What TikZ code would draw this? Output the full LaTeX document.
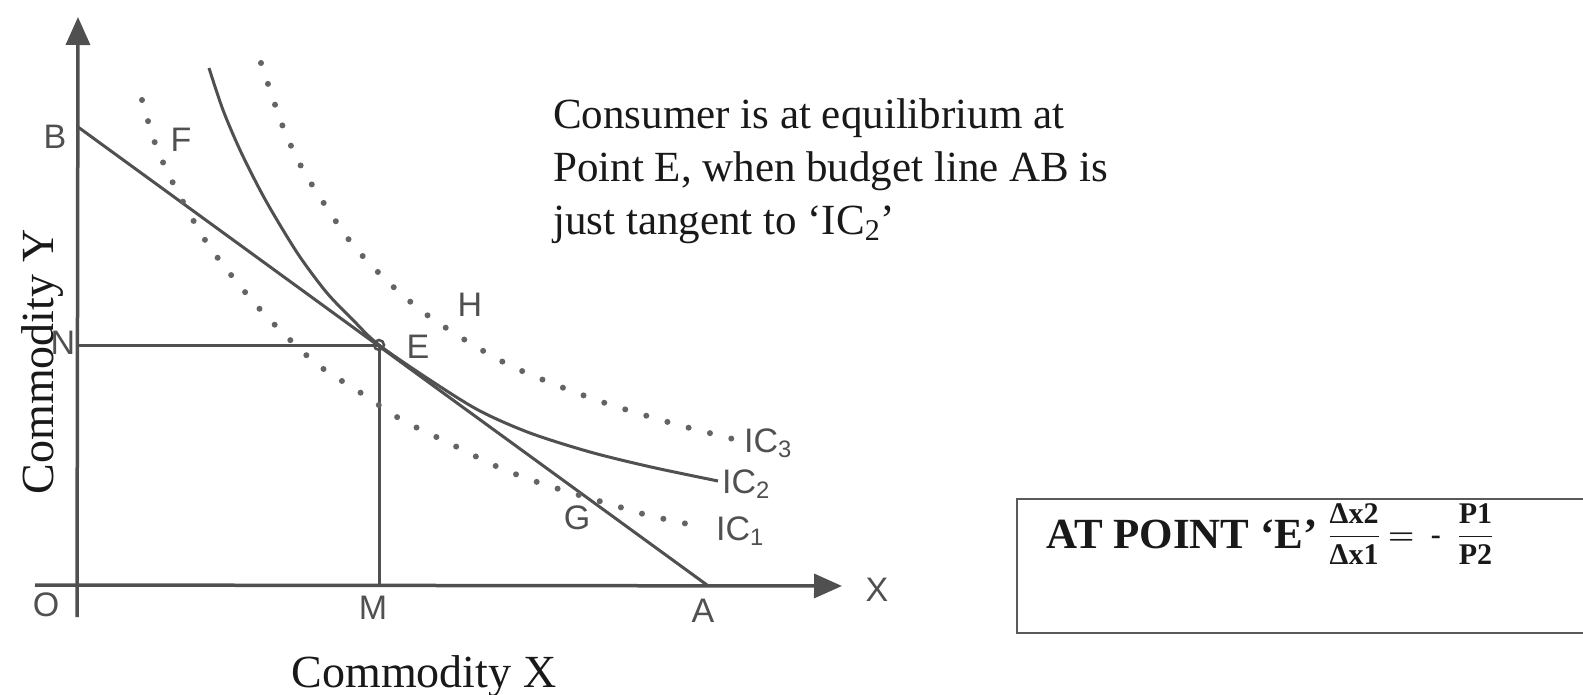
\documentclass[tikz,border=0pt]{standalone}
\usepackage{fix-cm}
\usepackage{amsmath}
\usepackage{fontspec}
\setmainfont{Liberation Serif}
\newfontfamily\labelfont{Liberation Sans}
\usepackage{tikz}
\usetikzlibrary{arrows.meta,positioning}
\definecolor{inkgrey}{RGB}{80,80,80}
\definecolor{dotgrey}{RGB}{100,100,100}
\definecolor{labelgrey}{RGB}{80,80,80}
\definecolor{textblack}{RGB}{25,25,25}
\definecolor{boxgrey}{RGB}{90,90,90}

\begin{document}
\begin{tikzpicture}[
      x=1pt, y=1pt,
      axis/.style={line width=3.5pt, draw=inkgrey, -{Triangle[length=28pt,width=24pt]}},
      guide/.style={line width=3pt, draw=inkgrey},
      icdots/.style={draw=dotgrey, line width=6pt, line cap=round, dash pattern=on 0pt off 22pt},
      ptlabel/.style={font=\labelfont\fontsize{34}{34}\selectfont, text=labelgrey, inner sep=0pt},
      axislabel/.style={font=\fontsize{46}{50}\selectfont, text=textblack, inner sep=0pt},
      note/.style={font=\fontsize{43}{53}\selectfont, text=textblack, align=left, inner sep=0pt},
  ]
      \useasboundingbox (0,0) rectangle (1583,-695);
      \fill[white] (0,0) rectangle (1583,-695);

      % Points of the graph
      \coordinate (O) at (77,-585);
      \coordinate (B) at (78,-127);
      \coordinate (A) at (707,-585);
      \coordinate (E) at (379,-345);
      \coordinate (N) at (77,-345);
      \coordinate (M) at (379,-585);
      \coordinate (ystart) at (77,-617);
      \coordinate (ytip) at (78,-17);
      \coordinate (xstart) at (35,-585);
      \coordinate (xtip) at (842,-586);

      % Axes
      \draw[axis] (ystart) -- (ytip);
      \draw[axis] (xstart) -- (xtip);

      % Budget line and equilibrium
      \draw[guide] (B) -- (A);
      \draw[guide] (N) -- (E) -- (M);
      \draw[guide, line width=2.5pt] (E) circle (5pt);

      % Indifference curves
      \draw[guide] plot[smooth, tension=0.5] coordinates {(209,-68) (223,-110) (240,-150)
        (260,-190) (277,-220) (300,-257) (327,-293) (353,-320) (379,-345) (433,-382)
        (480,-411) (530,-433) (590,-452) (651,-467) (718,-481)};
      \draw[icdots] plot[smooth, tension=0.5] coordinates {(142,-100) (155,-143) (173,-183)
        (207,-243) (250,-298) (283,-333) (318,-365) (361,-393) (402,-420) (449,-443)
        (498,-467) (546,-485) (623,-508) (651,-516) (702,-527)};
      \draw[icdots] plot[smooth, tension=0.5] coordinates {(261,-63) (283,-127) (302,-168)
        (327,-208) (353,-245) (386,-280) (423,-312) (465,-340) (509,-365) (556,-385)
        (605,-403) (654,-418) (686,-427) (733,-439)};

      % Point labels
      \node[ptlabel] (lblB) at (55,-137) {B};
      \node[ptlabel] (lblF) at (181,-140) {F};
      \node[ptlabel] (lblN) at (63,-343) {N};
      \node[ptlabel] (lblE) at (418,-347) {E};
      \node[ptlabel] (lblH) at (470,-305) {H};
      \node[ptlabel] (lblG) at (577,-518) {G};
      \node[ptlabel] (lblO) at (46,-605) {O};
      \node[ptlabel] (lblM) at (373,-608) {M};
      \node[ptlabel] (lblA) at (703,-611) {A};
      \node[ptlabel] (lblX) at (877,-590) {X};
      \node[ptlabel, anchor=west] (lblIC3) at (744,-443) {IC\textsubscript{3}};
      \node[ptlabel, anchor=west] (lblIC2) at (722,-484) {IC\textsubscript{2}};
      \node[ptlabel, anchor=west] (lblIC1) at (716,-531) {IC\textsubscript{1}};

      % Axis titles
      \node[axislabel, rotate=90, anchor=base] (titleY) at (53,-362) {Commodity Y};
      \node[axislabel, anchor=base] (titleX) at (424,-687) {Commodity X};

      % Explanation
      \node[note, anchor=north west] (explain) at (553,-98)
        {Consumer is at equilibrium at\\Point E, when budget line AB is\\just tangent to ‘IC\textsubscript{2}’};

      % Condition box
      \node[draw=boxgrey, line width=2pt, minimum width=574pt, minimum height=134pt,
        anchor=north west, inner sep=0pt] (condbox) at (1016,-498) {};
      \node[note, font=\fontsize{43}{50}\selectfont\bfseries, anchor=base west] (condition) at (1046,-548)
        {AT POINT ‘E’ \raisebox{4pt}{\fontsize{30}{30}\selectfont
          $\dfrac{\textbf{Δx2}}{\textbf{Δx1}} \mathrel{\boldsymbol{=}}\;\textbf{-}\;\;\dfrac{\textbf{P1}}{\textbf{P2}}$}};

  \end{tikzpicture}
\end{document}
